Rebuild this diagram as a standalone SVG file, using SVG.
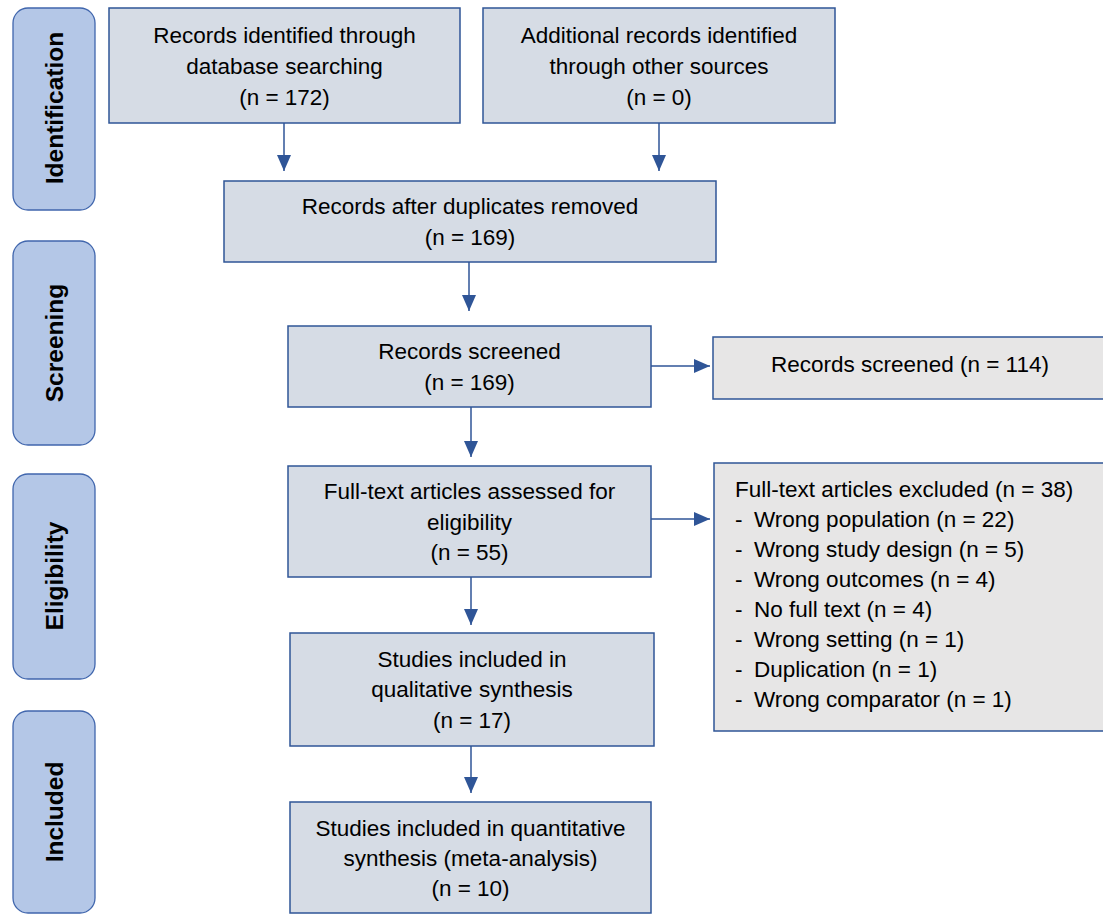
<svg xmlns="http://www.w3.org/2000/svg" width="1103" height="915" viewBox="0 0 1103 915">
<style>
.side{fill:#b4c7e7;stroke:#4066ad;stroke-width:1.3}
.main{fill:#d6dce5;stroke:#2f5597;stroke-width:1.5}
.excl{fill:#e7e6e6;stroke:#2f5597;stroke-width:1.5}
text{font-family:"Liberation Sans",Arial,sans-serif;font-size:22.5px;fill:#000}
.c{text-anchor:middle}
.lab{font-weight:bold;font-size:24.5px;text-anchor:middle;dominant-baseline:central}
.con line{stroke:#2f5597;stroke-width:1.5;marker-end:url(#ah)}
</style>
<defs>
<marker id="ah" viewBox="0 0 16 14" refX="16" refY="7" markerWidth="16" markerHeight="14" markerUnits="userSpaceOnUse" orient="auto">
<path d="M0,0 L16,7 L0,14 z" fill="#2f5597"/>
</marker>
</defs>
<rect width="1103" height="915" fill="#fff"/>

<g id="stage-identification">
<rect class="side" x="13" y="8" width="82" height="202" rx="15"/>
<text class="lab" transform="translate(54,108) rotate(-90)">Identification</text>
</g>
<g id="stage-screening">
<rect class="side" x="13" y="241" width="82" height="204" rx="15"/>
<text class="lab" transform="translate(54,343) rotate(-90)">Screening</text>
</g>
<g id="stage-eligibility">
<rect class="side" x="13" y="474" width="82" height="205" rx="15"/>
<text class="lab" transform="translate(54,576) rotate(-90)">Eligibility</text>
</g>
<g id="stage-included">
<rect class="side" x="13" y="711" width="82" height="202" rx="15"/>
<text class="lab" transform="translate(54,812) rotate(-90)">Included</text>
</g>

<g id="n-database">
<rect class="main" x="109" y="8" width="351" height="115"/>
<text class="c" x="284.5" y="43">Records identified through</text>
<text class="c" x="284.5" y="74">database searching</text>
<text class="c" x="284.5" y="105">(n = 172)</text>
</g>
<g id="n-other">
<rect class="main" x="483" y="8" width="352" height="115"/>
<text class="c" x="659" y="43">Additional records identified</text>
<text class="c" x="659" y="74">through other sources</text>
<text class="c" x="659" y="105">(n = 0)</text>
</g>
<g id="n-dedup">
<rect class="main" x="224" y="181" width="492" height="81"/>
<text class="c" x="470" y="214">Records after duplicates removed</text>
<text class="c" x="470" y="245">(n = 169)</text>
</g>
<g id="n-screened">
<rect class="main" x="288" y="326" width="363" height="81"/>
<text class="c" x="469.5" y="359">Records screened</text>
<text class="c" x="469.5" y="390">(n = 169)</text>
</g>
<g id="n-screened-out">
<rect class="excl" x="713" y="337" width="394" height="62"/>
<text class="c" x="910" y="372">Records screened (n = 114)</text>
</g>
<g id="n-fulltext">
<rect class="main" x="288" y="466" width="363" height="111"/>
<text class="c" x="469.5" y="499">Full-text articles assessed for</text>
<text class="c" x="469.5" y="530">eligibility</text>
<text class="c" x="469.5" y="560">(n = 55)</text>
</g>
<g id="n-excluded">
<rect class="excl" x="714" y="463" width="393" height="268"/>
<text x="735" y="497">Full-text articles excluded (n = 38)</text>
<text x="735" y="527">-</text><text x="754" y="527">Wrong population (n = 22)</text>
<text x="735" y="557">-</text><text x="754" y="557">Wrong study design (n = 5)</text>
<text x="735" y="587">-</text><text x="754" y="587">Wrong outcomes (n = 4)</text>
<text x="735" y="617">-</text><text x="754" y="617">No full text (n = 4)</text>
<text x="735" y="647">-</text><text x="754" y="647">Wrong setting (n = 1)</text>
<text x="735" y="677">-</text><text x="754" y="677">Duplication (n = 1)</text>
<text x="735" y="707">-</text><text x="754" y="707">Wrong comparator (n = 1)</text>
</g>
<g id="n-qualitative">
<rect class="main" x="290" y="633" width="364" height="113"/>
<text class="c" x="472" y="667">Studies included in</text>
<text class="c" x="472" y="697">qualitative synthesis</text>
<text class="c" x="472" y="728">(n = 17)</text>
</g>
<g id="n-quantitative">
<rect class="main" x="290" y="802" width="361" height="111"/>
<text class="c" x="470.5" y="836">Studies included in quantitative</text>
<text class="c" x="470.5" y="866">synthesis (meta-analysis)</text>
<text class="c" x="470.5" y="896">(n = 10)</text>
</g>

<g id="connectors" class="con">
<line x1="284" y1="123" x2="284" y2="171"/>
<line x1="659" y1="123" x2="659" y2="171"/>
<line x1="469" y1="262" x2="469" y2="311"/>
<line x1="471" y1="407" x2="471" y2="457"/>
<line x1="471" y1="577" x2="471" y2="625"/>
<line x1="471" y1="746" x2="471" y2="793"/>
<line x1="651" y1="366" x2="710" y2="366"/>
<line x1="651" y1="519" x2="710" y2="519"/>
</g>
</svg>
